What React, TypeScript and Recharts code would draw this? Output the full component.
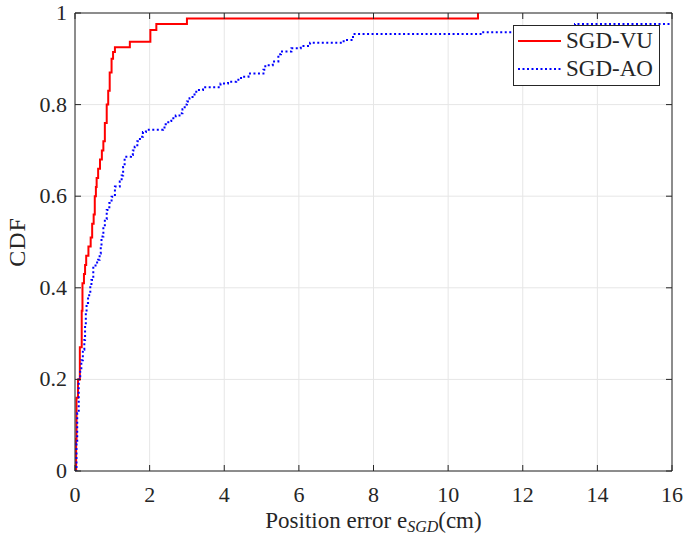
import React from 'react';
import { LineChart, Line, XAxis, YAxis, CartesianGrid, Legend } from 'recharts';

const xTicks = [0, 2, 4, 6, 8, 10, 12, 14, 16];
const yTicks = [0, 0.2, 0.4, 0.6, 0.8, 1];
const yTickLabels = ['0', '0.2', '0.4', '0.6', '0.8', '1'];

const vuX = [0, 0.03, 0.04, 0.08, 0.13, 0.18, 0.2, 0.24, 0.27, 0.3, 0.36, 0.42, 0.46, 0.5, 0.53, 0.56, 0.58, 0.62, 0.67, 0.72, 0.76, 0.8, 0.85, 0.89, 0.93, 0.98, 1.02, 1.07, 1.47, 2.02, 2.18, 3.0, 10.8];
const vuY = [0, 0.07, 0.16, 0.2, 0.27, 0.35, 0.41, 0.43, 0.45, 0.47, 0.49, 0.51, 0.54, 0.56, 0.6, 0.62, 0.64, 0.66, 0.68, 0.7, 0.72, 0.76, 0.8, 0.83, 0.87, 0.9, 0.915, 0.925, 0.937, 0.963, 0.976, 0.988, 1.0];

const aoX = [0, 0.04, 0.06, 0.1, 0.14, 0.17, 0.21, 0.25, 0.27, 0.29, 0.31, 0.35, 0.38, 0.41, 0.44, 0.49, 0.55, 0.62, 0.66, 0.69, 0.71, 0.76, 0.8, 0.85, 0.92, 0.98, 1.07, 1.2, 1.25, 1.29, 1.33, 1.5, 1.55, 1.6, 1.67, 1.74, 1.82, 1.9, 2.36, 2.43, 2.5, 2.58, 2.7, 2.8, 2.88, 2.94, 3.0, 3.07, 3.15, 3.25, 3.43, 3.9, 4.1, 4.32, 4.45, 4.65, 5.05, 5.1, 5.3, 5.45, 5.52, 5.8, 6.05, 6.3, 7.2, 7.45, 10.9, 13.4, 16];
const aoY = [0, 0.06, 0.126, 0.2, 0.22, 0.242, 0.265, 0.286, 0.32, 0.345, 0.367, 0.38, 0.389, 0.405, 0.417, 0.446, 0.455, 0.461, 0.475, 0.49, 0.512, 0.533, 0.55, 0.57, 0.585, 0.599, 0.621, 0.632, 0.645, 0.664, 0.686, 0.69, 0.7, 0.708, 0.72, 0.73, 0.74, 0.745, 0.75, 0.757, 0.764, 0.77, 0.776, 0.781, 0.79, 0.8, 0.807, 0.814, 0.822, 0.832, 0.838, 0.846, 0.85, 0.854, 0.861, 0.868, 0.876, 0.886, 0.894, 0.91, 0.916, 0.923, 0.928, 0.935, 0.941, 0.954, 0.958, 0.976, 0.976];

const seriesNames = ['SGD-VU', 'SGD-AO'];
const seriesColors = ['#ff0000', '#0000ff'];
const seriesDash = [undefined, '2 2.5'];

const vuData = vuX.map((x, i) => ({ x, y: vuY[i] }));
const aoData = aoX.map((x, i) => ({ x, y: aoY[i] }));

const FONT = "'Liberation Serif', 'Times New Roman', serif";
const AX = '#262626';
const TXT = { fontFamily: FONT } as React.CSSProperties;

const BottomTick = (props: any) => {
  const { x, y, payload } = props;
  return (
    <g>
      <line x1={x} y1={y} x2={x} y2={y - 6} stroke={AX} strokeWidth={1} />
      <text x={x} y={y + 31} textAnchor="middle" style={TXT} fontSize={22} fill={AX}>
        {payload.value}
      </text>
    </g>
  );
};

const TopTick = (props: any) => {
  const { x, y } = props;
  return <line x1={x} y1={y} x2={x} y2={y + 6} stroke={AX} strokeWidth={1} />;
};

const LeftTick = (props: any) => {
  const { x, y, payload } = props;
  const idx = yTicks.indexOf(payload.value);
  return (
    <g>
      <line x1={x} y1={y} x2={x + 6} y2={y} stroke={AX} strokeWidth={1} />
      <text x={x - 8} y={y + 7} textAnchor="end" style={TXT} fontSize={22} fill={AX}>
        {idx >= 0 ? yTickLabels[idx] : payload.value}
      </text>
    </g>
  );
};

const RightTick = (props: any) => {
  const { x, y } = props;
  return <line x1={x} y1={y} x2={x - 6} y2={y} stroke={AX} strokeWidth={1} />;
};

const XLabel = (props: any) => {
  const vb = props.viewBox || {};
  const cx = (vb.x || 0) + (vb.width || 0) / 2;
  const y = (vb.y || 0) + 57;
  return (
    <text x={cx} y={y} textAnchor="middle" style={TXT} fontSize={23} fill={AX}>
      Position error e
      <tspan fontStyle="italic" fontSize={16} dy={4}>SGD</tspan>
      <tspan dy={-4}>(cm)</tspan>
    </text>
  );
};

const YLabel = (props: any) => {
  const vb = props.viewBox || {};
  const cy = (vb.y || 0) + (vb.height || 0) / 2;
  const x = 25;
  return (
    <text x={x} y={cy} transform={`rotate(-90 ${x} ${cy})`} textAnchor="middle" style={TXT} fontSize={24} letterSpacing={1} fill={AX}>
      CDF
    </text>
  );
};

const renderLegend = () => (
  <div style={{ border: `1px solid ${AX}`, background: '#fff', width: 145, height: 58, boxSizing: 'content-box', fontFamily: FONT, fontSize: 23, color: AX, paddingTop: 1 }}>
    {seriesNames.map((name, i) => (
      <div key={name} style={{ display: 'flex', alignItems: 'center', height: 28 }}>
        <svg width={52} height={10} style={{ flex: 'none' }}>
          <line x1={4} y1={5} x2={47} y2={5} stroke={seriesColors[i]} strokeWidth={2} strokeDasharray={seriesDash[i]} />
        </svg>
        <span style={{ lineHeight: '28px' }}>{name}</span>
      </div>
    ))}
  </div>
);

export default function App() {
  return (
    <div style={{ width: 683, height: 535 }}>
      <style>{`html, body { margin: 0; padding: 0; overflow: hidden; }`}</style>
      <LineChart width={683} height={535} margin={{ top: 0, right: 0, bottom: 0, left: 0 }}>
        <CartesianGrid stroke="#e6e6e6" strokeWidth={1} />
        <XAxis
          xAxisId={0}
          type="number"
          dataKey="x"
          domain={[0, 16]}
          ticks={xTicks}
          allowDataOverflow
          height={64}
          tickSize={0}
          tickMargin={0}
          tickLine={false}
          axisLine={{ stroke: AX, strokeWidth: 1 }}
          tick={<BottomTick />}
          label={<XLabel />}
        />
        <XAxis
          xAxisId="top"
          orientation="top"
          type="number"
          dataKey="x"
          domain={[0, 16]}
          ticks={xTicks}
          allowDataOverflow
          height={13}
          tickSize={0}
          tickMargin={0}
          tickLine={false}
          axisLine={{ stroke: AX, strokeWidth: 1 }}
          tick={<TopTick />}
        />
        <YAxis
          yAxisId={0}
          type="number"
          domain={[0, 1]}
          ticks={yTicks}
          allowDataOverflow
          width={75}
          tickSize={0}
          tickMargin={0}
          tickLine={false}
          axisLine={{ stroke: AX, strokeWidth: 1 }}
          tick={<LeftTick />}
          label={<YLabel />}
        />
        <YAxis
          yAxisId="right"
          orientation="right"
          type="number"
          domain={[0, 1]}
          ticks={yTicks}
          allowDataOverflow
          width={11}
          tickSize={0}
          tickMargin={0}
          tickLine={false}
          axisLine={{ stroke: AX, strokeWidth: 1 }}
          tick={<RightTick />}
        />
        <Line
          data={vuData}
          dataKey="y"
          name={seriesNames[0]}
          type="stepAfter"
          stroke={seriesColors[0]}
          strokeWidth={2}
          dot={false}
          activeDot={false}
          isAnimationActive={false}
        />
        <Line
          data={aoData}
          dataKey="y"
          name={seriesNames[1]}
          type="stepAfter"
          stroke={seriesColors[1]}
          strokeWidth={2}
          strokeDasharray={seriesDash[1]}
          dot={false}
          activeDot={false}
          isAnimationActive={false}
        />
        <Legend
          layout="vertical"
          align="center"
          verticalAlign="middle"
          content={renderLegend}
          wrapperStyle={{ position: 'absolute', left: 513, top: 25, width: 147, height: 60 }}
        />
      </LineChart>
    </div>
  );
}
